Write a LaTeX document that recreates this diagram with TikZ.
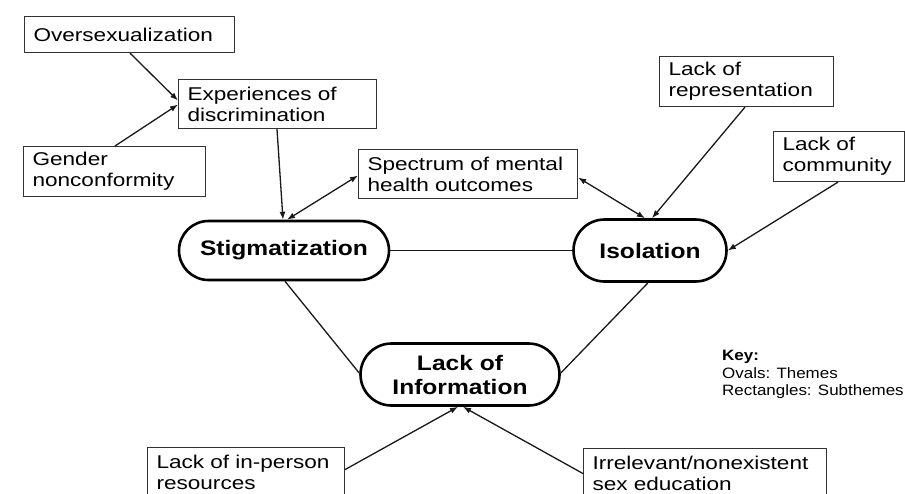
\documentclass[tikz,border=0pt]{standalone}
\usepackage{fontspec}
\usetikzlibrary{shapes.misc,arrows.meta}
\newfontfamily\boxfont[FakeStretch=1.22]{Liberation Sans}
\newfontfamily\ovalfont[FakeStretch=1.17]{Liberation Sans}
\newfontfamily\keyfont[FakeStretch=1.13]{Liberation Sans}
\tikzset{
  subbox/.style={draw=black!80, line width=1.1pt, rectangle, anchor=north west,
    inner xsep=9pt, inner ysep=0pt, align=left, text=black,
    font=\boxfont\fontsize{18.5}{21}\selectfont},
  theme/.style={draw=black, line width=2.6pt, rounded rectangle, align=center,
    inner sep=0pt, text=black,
    font=\ovalfont\bfseries\fontsize{21}{24}\selectfont},
  conn/.style={draw=black!90, line width=1.3pt},
  arr/.style={conn, -{Latex[length=8pt,width=6pt]}},
  darr/.style={conn, {Latex[length=8pt,width=6pt]}-{Latex[length=8pt,width=6pt]}},
  keytext/.style={anchor=north west, inner sep=0pt, align=left, text=black,
    font=\keyfont\fontsize{15}{17.5}\selectfont}
}
\begin{document}
\begin{tikzpicture}[x=1pt,y=-1pt]
\useasboundingbox (0,0) rectangle (905,493);
\clip (0,0) rectangle (905,493);
\fill[white] (0,0) rectangle (905,493);

% subtheme rectangles
\node[subbox, minimum width=210pt, minimum height=36pt, text width=192pt] (over) at (24,16) {Oversexualization};
\node[subbox, minimum width=198pt, minimum height=49pt, text width=180pt] (exp) at (178,79) {Experiences of\\discrimination};
\node[subbox, minimum width=182pt, minimum height=50pt, text width=164pt] (gender) at (23,146) {Gender\\nonconformity};
\node[subbox, minimum width=219pt, minimum height=49pt, text width=201pt] (spec) at (358,149) {Spectrum of mental\\health outcomes};
\node[subbox, minimum width=174pt, minimum height=50pt, text width=156pt] (rep) at (659,56) {Lack of\\representation};
\node[subbox, minimum width=131pt, minimum height=50pt, text width=113pt] (comm) at (773,131) {Lack of\\community};
\node[subbox, minimum width=197pt, minimum height=50pt, text width=179pt] (inp) at (147,447) {Lack of in-person\\resources};
\node[subbox, minimum width=243pt, minimum height=50pt, text width=225pt] (irr) at (583,448) {Irrelevant/nonexistent\\sex education};

% themes
\node[theme, minimum width=210pt, minimum height=59pt] (stig) at (284,250.5) {Stigmatization};
\node[theme, minimum width=153pt, minimum height=62pt] (iso) at (650,250.5) {Isolation};
\node[theme, minimum width=199pt, minimum height=62pt] (info) at (460,374.5) {Lack of\\Information};

% key
\node[keytext] (key) at (722,350) {{\bfseries Key:}\\Ovals: Themes\\Rectangles: Subthemes};

% connectors
\draw[arr] ([xshift=106pt]over.south west) -- ([yshift=3.5pt]exp.west);
\draw[arr] ([xshift=92pt]gender.north west) -- ([yshift=-0.5pt]exp.west);
\draw[arr] ([xshift=99pt]exp.south west) -- ([xshift=-1pt]stig.north);
\draw[darr] ([xshift=3pt]stig.north) -- ([yshift=-1.5pt]spec.west);
\draw[darr] ([yshift=-3.5pt]spec.east) -- ([xshift=-5pt]iso.north);
\draw[arr] ([xshift=86pt]rep.south west) -- ([xshift=2pt]iso.north);
\draw[arr] ([xshift=65pt]comm.south west) -- (iso.east);
\draw[conn] (stig.east) -- (iso.west);
\draw[conn] ([xshift=1pt]stig.south) -- ([yshift=1.5pt]info.west);
\draw[conn] ([xshift=-2pt]iso.south) -- ([yshift=1.5pt]info.east);
\draw[arr] ([yshift=3pt]inp.east) -- ([xshift=-2pt]info.south);
\draw[arr] (irr.west) -- ([xshift=3pt]info.south);
\end{tikzpicture}
\end{document}
